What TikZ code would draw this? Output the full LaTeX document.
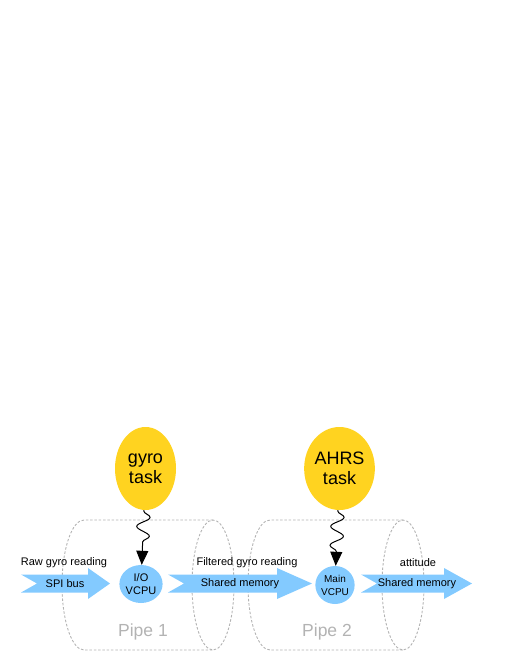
\documentclass[tikz,border=0pt]{standalone}
\usepackage{fontspec}
\setmainfont{Liberation Sans}
\usetikzlibrary{positioning, shapes.geometric, arrows.meta, decorations.pathmorphing}
\definecolor{taskyellow}{HTML}{FFD320}
\definecolor{flowblue}{HTML}{83CAFF}
\definecolor{pipegray}{HTML}{B3B3B3}

\begin{document}
\begin{tikzpicture}[x=1pt, y=-1pt,
    task/.style={ellipse, fill=taskyellow, minimum width=61pt, minimum height=83pt,
                 inner sep=0pt, align=center, font=\fontsize{18}{20}\selectfont},
    vcpu/.style={ellipse, fill=flowblue, minimum width=34pt, minimum height=38pt,
                 inner sep=0pt, align=center},
    flow/.style={fill=flowblue},
    flowtext/.style={font=\fontsize{11}{13}\selectfont},
    pipe/.style={draw=pipegray, line width=0.9pt, dash pattern=on 2.5pt off 1.8pt},
    pipelabel/.style={text=pipegray, font=\fontsize{17.5}{20}\selectfont},
    wave/.style={decorate, decoration={snake, amplitude=6.5pt, segment length=19pt,
                 pre length=1pt, post length=14pt},
                 line width=1pt, -{Triangle[width=12pt, length=14pt]}}]
  \useasboundingbox (0,0) rectangle (510,660);

  % pipes
  \draw[pipe] (213,520) -- (84,520)
    arc[start angle=270, end angle=90, x radius=22, y radius=65] -- (213,650);
  \draw[pipe] (213,585) ellipse[x radius=21, y radius=65];
  \draw[pipe] (403,520) -- (270,520)
    arc[start angle=270, end angle=90, x radius=22, y radius=65] -- (403,650);
  \draw[pipe] (403,585) ellipse[x radius=21, y radius=65];
  \node[pipelabel] (pipe1) at (143,632) {Pipe 1};
  \node[pipelabel] (pipe2) at (327,632) {Pipe 2};

  % flows
  \fill[flow] (21,574.5) -- (88,574.5) -- (88,568) -- (110,583.5) -- (88,599)
    -- (88,592.5) -- (21,592.5) -- (37,583.5) -- cycle;
  \fill[flow] (168,574.5) -- (277,574.5) -- (277,568) -- (312,583.5) -- (277,599)
    -- (277,592.5) -- (168,592.5) -- (184,583.5) -- cycle;
  \fill[flow] (361,574.5) -- (444,574.5) -- (444,568) -- (472,583.5) -- (444,599)
    -- (444,592.5) -- (361,592.5) -- (377,583.5) -- cycle;
  \node[flowtext] (spi) at (65,583.5) {SPI bus};
  \node[flowtext] (shm1) at (240,583.5) {Shared memory};
  \node[flowtext] (shm2) at (417,583.5) {Shared memory};
  \node[flowtext] (raw) at (64,563) {Raw gyro reading};
  \node[flowtext] (filtered) at (247,563) {Filtered gyro reading};
  \node[flowtext] (attitude) at (418,563) {attitude};

  % tasks and vcpus
  \node[task] (gyro) at (145.5,468.5) {gyro\\task};
  \node[task] (ahrs) at (339.5,468.5) {AHRS\\task};
  \node[vcpu, font=\fontsize{11}{13}\selectfont] (iovcpu) at (141,584) {I/O\\VCPU};
  \node[vcpu, font=\fontsize{10}{13}\selectfont] (mainvcpu) at (335,585) {Main\\VCPU};

  \draw[wave] (gyro) -- (iovcpu);
  \draw[wave] (ahrs) -- (mainvcpu);
\end{tikzpicture}
\end{document}
